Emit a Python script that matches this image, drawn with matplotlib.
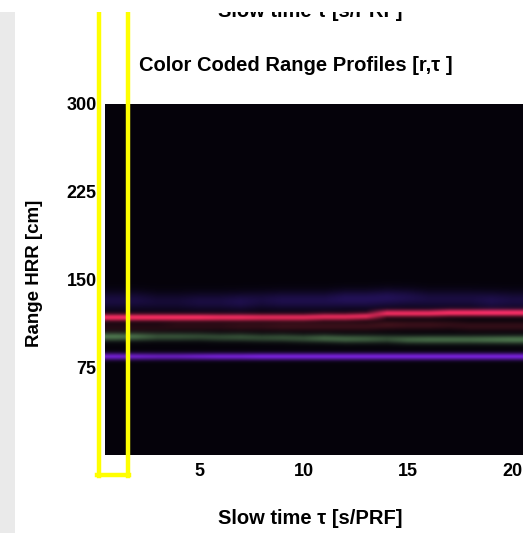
import numpy as np
import matplotlib
matplotlib.use("Agg")
import matplotlib.pyplot as plt
from matplotlib.lines import Line2D
from matplotlib.patches import Rectangle

plt.rcParams['font.family'] = ['Liberation Sans', 'DejaVu Sans']
plt.rcParams['font.weight'] = 'bold'

# slow time columns and range axis
slow_time = np.arange(1, 21)
range_cm = np.arange(0, 301)

# band centres [cm] per slow-time column
red_center = [117.5, 117.5, 117.5, 117.5, 117.5, 117.5, 117.5, 117.5, 117.5, 117.5,
              118, 118, 118.5, 121, 121, 121, 121.5, 121.5, 121.5, 121.5]
green_center = [101, 101, 101, 101, 101, 100.5, 100.5, 100, 100, 99.5,
                99.5, 99, 99, 99, 98.5, 98.5, 98.5, 98.5, 98.5, 98.5]
purple_center = [84, 84, 84, 84, 84, 84, 84, 84, 84, 84,
                 84, 84, 84, 84, 84, 84, 84, 84, 84, 84]
haze_center = [132, 132, 131, 131, 131, 131, 131, 132, 132, 132,
               132, 133, 133, 134, 134, 133, 133, 133, 132, 132]
brown_center = [109, 109, 109, 110, 110, 110, 110, 110, 110, 110,
                110, 110, 110, 111, 111, 111, 111, 110, 110, 110]

# band brightness per column
red_level = [1.0, 1.0, 1.0, 1.0, 1.0, 0.95, 0.95, 0.9, 0.9, 0.9,
             0.9, 0.9, 0.9, 0.95, 0.95, 0.95, 1.0, 1.0, 1.0, 1.0]
green_level = [0.9, 0.8, 0.6, 0.6, 0.55, 0.55, 0.6, 0.55, 0.6, 0.6,
               0.75, 0.75, 0.7, 0.6, 0.75, 0.8, 0.8, 0.8, 0.85, 0.9]
purple_level = [0.9, 0.85, 0.8, 0.8, 0.85, 0.9, 0.9, 0.95, 0.95, 0.95,
                0.95, 0.95, 0.95, 0.95, 0.95, 0.95, 0.95, 0.95, 0.95, 0.95]
haze_level = [0.5, 0.5, 0.4, 0.4, 0.5, 0.5, 0.6, 0.5, 0.6, 0.6,
              0.6, 0.7, 0.7, 0.7, 0.6, 0.5, 0.5, 0.5, 0.6, 0.5]
brown_level = [0.4, 0.4, 0.4, 0.5, 0.5, 0.5, 0.6, 0.6, 0.7, 0.7,
               0.7, 0.7, 0.7, 0.8, 0.7, 0.7, 0.6, 0.6, 0.6, 0.6]

# RGB colour and half width [cm] of each band
bands = [
    (haze_center, haze_level, (0.16, 0.08, 0.42), 5.5),
    (brown_center, brown_level, (0.28, 0.07, 0.08), 3.0),
    (red_center, red_level, (0.92, 0.16, 0.32), 2.2),
    (green_center, green_level, (0.30, 0.48, 0.28), 2.6),
    (purple_center, purple_level, (0.45, 0.12, 0.82), 2.2),
]

img = np.zeros((len(range_cm), len(slow_time), 3))
img[:] = (0.02, 0.01, 0.04)
for centers, levels, rgb, w in bands:
    for j in range(len(slow_time)):
        prof = levels[j] * np.exp(-0.5 * ((range_cm - centers[j]) / w) ** 2)
        img[:, j, :] += prof[:, None] * np.array(rgb)[None, :]
img = np.clip(img, 0, 1)

W, H = 528, 533
fig = plt.figure(figsize=(W / 100, H / 100), dpi=100)
fig.patch.set_facecolor('white')

# grey strip at the left edge of the scan
fig.add_artist(Rectangle((0, 0), 15 / W, 1 - 12 / H, transform=fig.transFigure,
                         facecolor='#eaeaea', edgecolor='none', zorder=0))

ax = fig.add_axes([105 / W, 1 - 455 / H, 418 / W, 351 / H])
ax.imshow(img, origin='lower', aspect='auto', extent=[0.5, 20.5, 0, 300],
          interpolation='bilinear')
ax.set_xlim(0.5, 20.5)
ax.set_ylim(0, 300)
ax.set_xticks([5, 10, 15, 20])
ax.set_yticks([75, 150, 225, 300])
ax.tick_params(length=0, labelsize=13, pad=6)
for lab in ax.get_xticklabels() + ax.get_yticklabels():
    lab.set_fontweight('bold')
for s in ax.spines.values():
    s.set_visible(False)

fig.text(296 / W, 1 - 71 / H, 'Color Coded Range Profiles [r,τ ]',
         ha='center', va='baseline', fontsize=14.5, fontweight='bold')
fig.text(310 / W, 1 - 524 / H, 'Slow time τ [s/PRF]',
         ha='center', va='baseline', fontsize=14.5, fontweight='bold')
fig.text(35 / W, 1 - 273 / H, 'Range HRR [cm]', rotation=90,
         ha='center', va='center', fontsize=13.5, fontweight='bold')
# cut-off axis label at the very top
fig.text(310 / W, 1 - 17 / H, 'Slow time τ [s/PRF]',
         ha='center', va='baseline', fontsize=14.5, fontweight='bold')

# yellow highlight box
ylw = '#ffff00'
for x in (98.5, 127.5):
    fig.add_artist(Line2D([x / W, x / W], [1 - 12 / H, 1 - 476 / H],
                          transform=fig.transFigure, color=ylw, lw=3.2, zorder=5))
fig.add_artist(Line2D([97 / W, 129 / W], [1 - 475 / H, 1 - 475 / H],
                      transform=fig.transFigure, color=ylw, lw=3.2, zorder=5))

# blank band at the top that cuts the upper label
fig.add_artist(Rectangle((0, 1 - 12 / H), 1, 12 / H, transform=fig.transFigure,
                         facecolor='white', edgecolor='none', zorder=10))

fig.savefig('out.png', dpi=100)
